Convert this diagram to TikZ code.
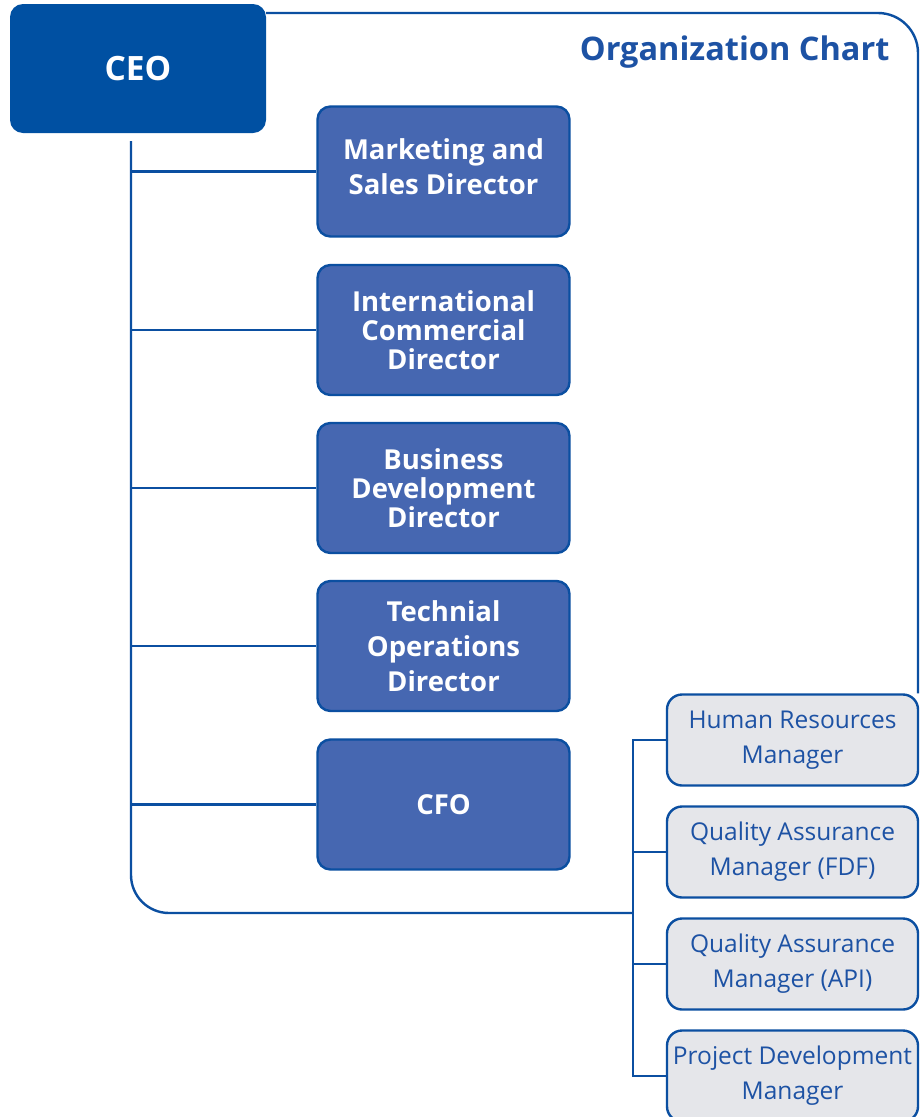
\documentclass[tikz,border=0pt]{standalone}
\usepackage{fontspec}
\setmainfont{Open Sans}
\definecolor{ceoblue}{HTML}{0050A2}
\definecolor{dirblue}{HTML}{4667B1}
\definecolor{edgeblue}{HTML}{0B4FA1}
\definecolor{mgrgrey}{HTML}{E5E6EA}
\definecolor{textblue}{HTML}{1D52A4}
\tikzset{
  link/.style={draw=edgeblue, line width=2.4pt},
  ceobox/.style={fill=ceoblue, rounded corners=13pt, minimum width=256pt, minimum height=129pt,
    text=white, font=\bfseries\fontsize{33.5}{38}\selectfont, inner sep=0pt},
  dirbox/.style={fill=dirblue, draw=edgeblue, line width=2.4pt, rounded corners=13pt,
    minimum width=252pt, minimum height=130pt, text=white, align=center, inner sep=0pt,
    font=\bfseries\fontsize{27.5}{29}\selectfont},
  mgrbox/.style={fill=mgrgrey, draw=edgeblue, line width=2.4pt, rounded corners=15pt,
    minimum width=251pt, minimum height=91pt, text=textblue, align=center, inner sep=0pt,
    font=\fontsize{24.5}{35}\selectfont},
}
\begin{document}
\begin{tikzpicture}[x=1pt, y=-1pt]
\useasboundingbox (0,0) rectangle (924,1117);
\fill[white] (0,0) rectangle (924,1117);

% reference lines of the layout
\coordinate (spine) at (131,0);
\coordinate (bus) at (633,913);
\coordinate (frametop) at (0,13);
\coordinate (frameright) at (918,0);

% head of the chart
\node[ceobox] (ceo) at (138,68.5) {CEO};
\node[anchor=base east, text=textblue, font=\bfseries\fontsize{32.5}{38}\selectfont]
  (title) at (893,60) {Organization Chart};

% directors
\node[dirbox, font=\bfseries\fontsize{27.5}{35}\selectfont] (mkt) at (443.5,171.5) {Marketing and\\Sales Director\strut};
\node[dirbox] (intl) at (443.5,330) {International\\Commercial\\Director};
\node[dirbox] (bus dev) at (443.5,488) {Business\\Development\\Director};
\node[dirbox, font=\bfseries\fontsize{27.5}{35}\selectfont] (tech) at (443.5,646) {Technial\\Operations\\Director};
\node[dirbox] (cfo) at (443.5,804.5) {CFO};

% managers
\node[mgrbox] (hr) at (792.5,740) {Human Resources\\Manager};
\node[mgrbox] (qafdf) at (792.5,852) {Quality Assurance\\Manager (FDF)};
\node[mgrbox] (qaapi) at (792.5,964) {Quality Assurance\\Manager (API)};
\node[mgrbox] (pd) at (792.5,1076) {Project Development\\Manager};

% outer frame from the CEO box round to the managers
\draw[link, rounded corners=40pt] (ceo.east |- frametop) -- (frameright |- frametop) -- (frameright |- hr.north);
\draw[link, rounded corners=38pt] ([yshift=-8pt]ceo.south -| spine) |- (bus);

% branches to the directors
\foreach \n in {mkt, intl, bus dev, tech, cfo}
  \draw[link] (\n.west -| spine) -- (\n.west);

% branches to the managers
\draw[link] (hr.west) -- (hr.west -| bus) -- (pd.west -| bus) -- (pd.west);
\draw[link] (qafdf.west -| bus) -- (qafdf.west);
\draw[link] (qaapi.west -| bus) -- (qaapi.west);
\end{tikzpicture}
\end{document}
